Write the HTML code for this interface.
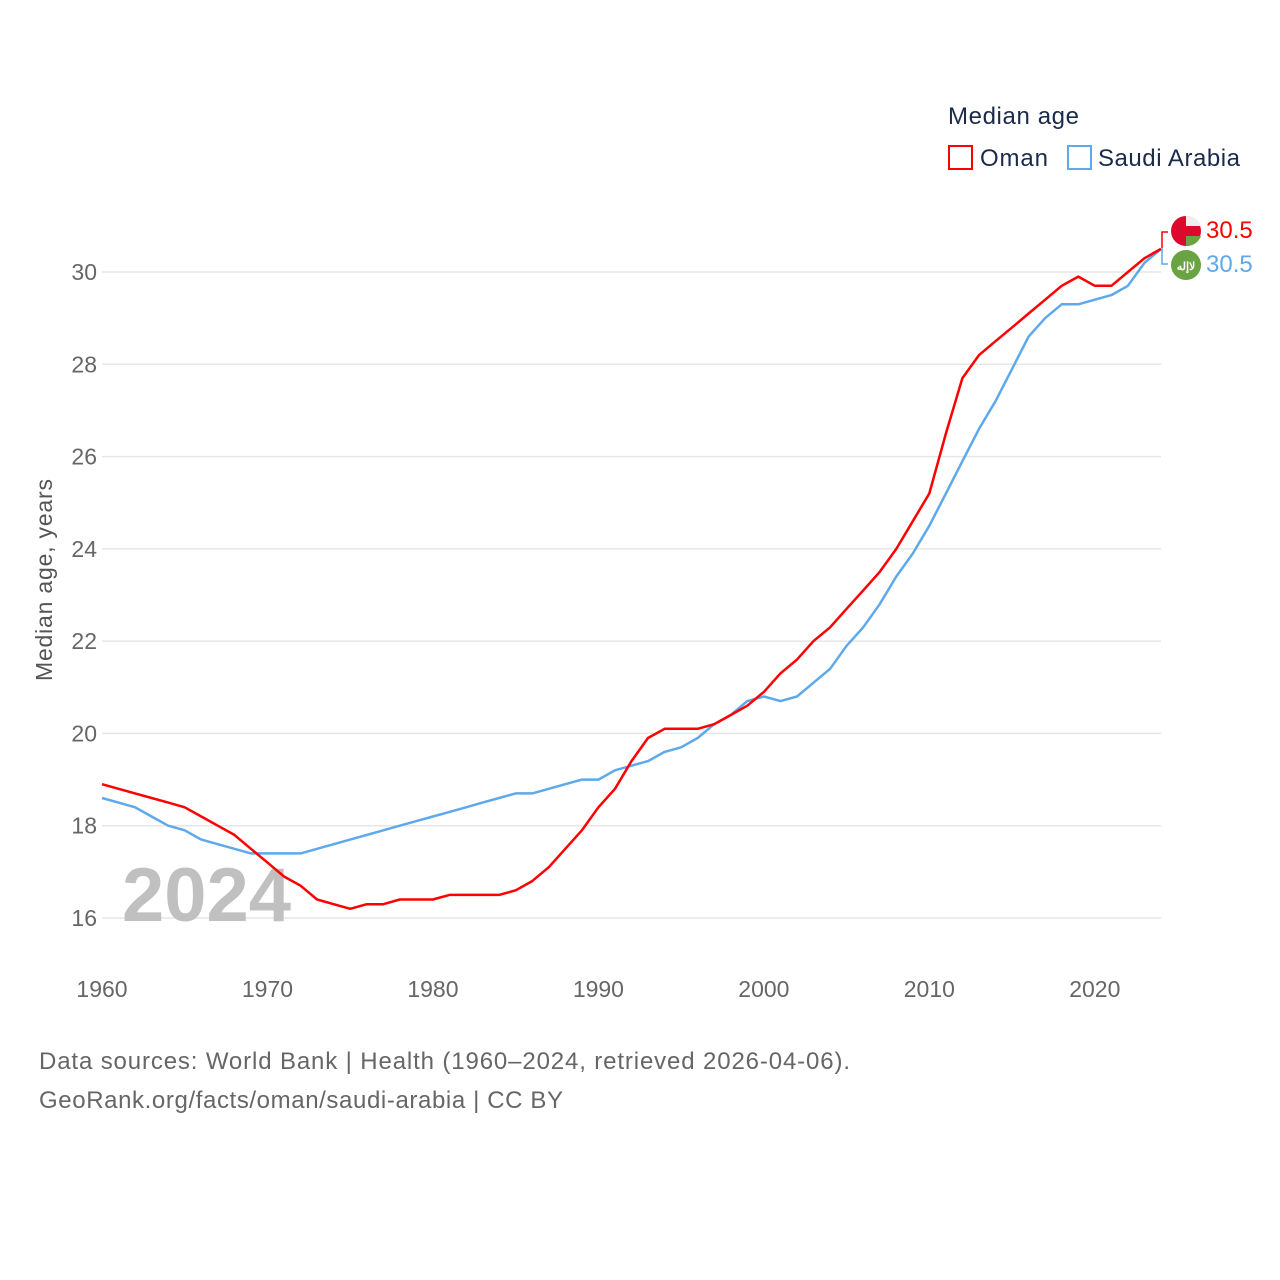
<!DOCTYPE html>
<html><head><meta charset="utf-8"><style>
body{margin:0;background:#fff;}
svg{display:block;font-family:"Liberation Sans",sans-serif;}
</style></head><body>
<svg id="chart" width="1280" height="1280" viewBox="0 0 1280 1280">
<g id="grid"></g>
<g id="yticks"></g>
<g id="xticks"></g>
<text x="122" y="921" font-size="76" font-weight="bold" fill="#c0c0c0">2024</text>
<text transform="translate(52,580) rotate(-90)" text-anchor="middle" font-size="23" fill="#555" textLength="202">Median age, years</text>
<g id="series"></g>
<text x="948" y="124" font-size="24" fill="#1a2a4a" textLength="131">Median age</text>
<g>
<rect x="949" y="146" width="23" height="23" fill="none" stroke="#f00" stroke-width="2"/>
<text x="980" y="166" font-size="24" fill="#1a2a4a" textLength="68">Oman</text></g>
<g>
<rect x="1068" y="146" width="23" height="23" fill="none" stroke="#5ea9ec" stroke-width="2"/>
<text x="1098" y="166" font-size="24" fill="#1a2a4a" textLength="142">Saudi Arabia</text></g>
<g>
<path d="M1168,232 h-6 v16" stroke="#f00" fill="none" stroke-width="1.5"/>
<circle cx="1186" cy="231" r="15" fill="#db0a2c"/>
<path d="M1186,216 a15,15 0 0 1 15,10 h-15z" fill="#eee"/>
<path d="M1186,236 h15 a15,15 0 0 1 -15,10z" fill="#6aa342"/>
<text x="1206" y="238" font-size="24" fill="#f00">30.5</text></g>
<g>
<path d="M1168,264 h-6 v-16" stroke="#5ea9ec" fill="none" stroke-width="1.5"/>
<circle cx="1186" cy="265" r="15" fill="#6aa342"/>
<text x="1186" y="270" font-size="11" fill="#fff" text-anchor="middle" font-weight="bold">ﻻإله</text>
<text x="1206" y="272" font-size="24" fill="#5ea9ec">30.5</text></g>
<text x="39" y="1069" font-size="24" fill="#666" textLength="811">Data sources: World Bank | Health (1960–2024, retrieved 2026-04-06).</text>
<text x="39" y="1108" font-size="24" fill="#666" textLength="524">GeoRank.org/facts/oman/saudi-arabia | CC BY</text>
</svg>
<script>
const years=[];for(let y=1960;y<=2024;y++)years.push(y);
const oman=[18.9,18.8,18.7,18.6,18.5,18.4,18.2,18.0,17.8,17.5,17.2,16.9,16.7,16.4,16.3,16.2,16.3,16.3,16.4,16.4,16.4,16.5,16.5,16.5,16.5,16.6,16.8,17.1,17.5,17.9,18.4,18.8,19.4,19.9,20.1,20.1,20.1,20.2,20.4,20.6,20.9,21.3,21.6,22.0,22.3,22.7,23.1,23.5,24.0,24.6,25.2,26.5,27.7,28.2,28.5,28.8,29.1,29.4,29.7,29.9,29.7,29.7,30.0,30.3,30.5];
const saudi=[18.6,18.5,18.4,18.2,18.0,17.9,17.7,17.6,17.5,17.4,17.4,17.4,17.4,17.5,17.6,17.7,17.8,17.9,18.0,18.1,18.2,18.3,18.4,18.5,18.6,18.7,18.7,18.8,18.9,19.0,19.0,19.2,19.3,19.4,19.6,19.7,19.9,20.2,20.4,20.7,20.8,20.7,20.8,21.1,21.4,21.9,22.3,22.8,23.4,23.9,24.5,25.2,25.9,26.6,27.2,27.9,28.6,29.0,29.3,29.3,29.4,29.5,29.7,30.2,30.5];
const yTicks=[16,18,20,22,24,26,28,30];
const xTicks=[1960,1970,1980,1990,2000,2010,2020];
const NS='http://www.w3.org/2000/svg';
const xs=y=>102+(y-1960)*(1161-102)/64;
const ys=v=>918-(v-16)*(646/14);
const mk=(t,a,p)=>{const e=document.createElementNS(NS,t);for(const k in a)e.setAttribute(k,a[k]);p.appendChild(e);return e;};
const grid=document.getElementById('grid'),yt=document.getElementById('yticks'),xt=document.getElementById('xticks'),se=document.getElementById('series');
yTicks.forEach(v=>{
 const l=mk('line',{x1:102,x2:1161,y1:ys(v),y2:ys(v),stroke:'#e6e6e6','stroke-width':1.5},grid);
 
 
 const t=mk('text',{x:97,y:ys(v)+8,'text-anchor':'end','font-size':23,fill:'#666'},yt);t.textContent=v;
 
 
});
xTicks.forEach(v=>{
 const t=mk('text',{x:xs(v),y:997,'text-anchor':'middle','font-size':23,fill:'#666'},xt);t.textContent=v;
 
 
});
function line(vals,col,name){
 const d=vals.map((v,i)=>(i?'L':'M')+xs(years[i]).toFixed(1)+','+ys(v).toFixed(1)).join('');
 const p=mk('path',{d:d,fill:'none',stroke:col,'stroke-width':2.5,'stroke-linejoin':'round'},se);
 
 
}
line(saudi,'#5ea9ec','saudi-arabia-line');
line(oman,'#ff0000','oman-line');
</script>
</body></html>
